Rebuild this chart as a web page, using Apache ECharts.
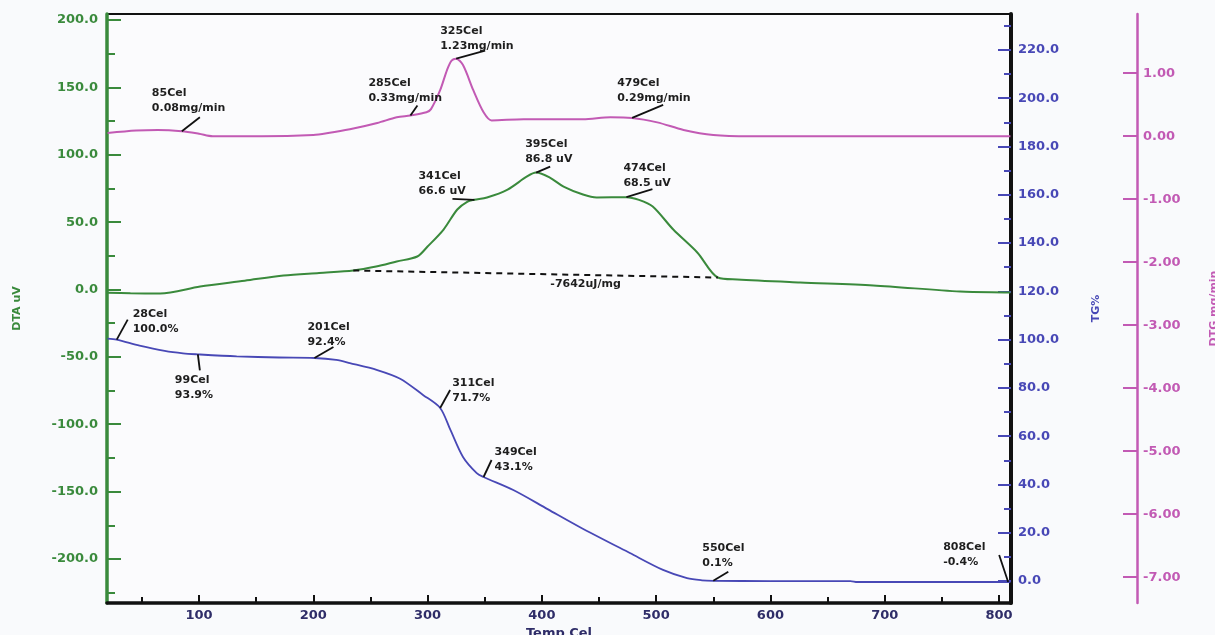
<!DOCTYPE html>
<html>
<head>
<meta charset="utf-8">
<script src="https://cdn.jsdelivr.net/npm/echarts@6/dist/echarts.min.js"></script>
<style>
  html, body { margin: 0; padding: 0; background: #f9fafc; }
  #chart { width: 1215px; height: 635px; }
</style>
</head>
<body>
<div id="chart"></div>
<script>
// ---- axis ticks ----
const tempMajorTicks = [100, 200, 300, 400, 500, 600, 700, 800];
const tempMinorTicks = [50, 150, 250, 350, 450, 550, 650, 750];
const dtaMajorTicks = [-200, -150, -100, -50, 0, 50, 100, 150, 200];
const dtaMinorTicks = [-225, -175, -125, -75, -25, 25, 75, 125, 175];
const tgMajorTicks = [0, 20, 40, 60, 80, 100, 120, 140, 160, 180, 200, 220];
const tgMinorTicks = [10, 30, 50, 70, 90, 110, 130, 150, 170, 190, 210, 230];
const dtgTicks = [-7, -6, -5, -4, -3, -2, -1, 0, 1];

// ---- TG curve (% mass) ----
const tgTemps  = [20, 28, 48, 70, 86, 99, 133, 170, 201, 220, 232, 256, 276, 296, 311, 320, 331, 343, 349, 375, 405, 433, 477, 506, 527, 540, 550, 600, 670, 676, 740, 808, 810];
const tgValues = [100.4, 100.0, 97.5, 95.3, 94.3, 93.9, 93.1, 92.6, 92.4, 91.6, 90.3, 87.4, 83.8, 77.1, 71.7, 62.6, 51.4, 44.7, 43.1, 37.7, 29.8, 22.4, 11.6, 4.6, 1.2, 0.3, 0.1, 0.0, 0.0, -0.4, -0.4, -0.4, -0.4];

// ---- DTA curve (uV) ----
const dtaTemps  = [20, 40, 66, 101, 140, 174, 205, 235, 255, 273, 291, 300, 314, 326, 335, 341, 352, 370, 387, 395, 407, 419, 436, 448, 474, 485, 497, 515, 536, 554, 571, 626, 690, 766, 807, 810];
const dtaValues = [-2.4, -2.8, -3.0, 2.2, 6.5, 10.4, 12.3, 14.1, 17.0, 20.8, 24.5, 31.9, 44.5, 59.4, 65.3, 66.6, 68.3, 74.2, 83.9, 86.8, 83.1, 76.4, 70.5, 68.3, 68.5, 66.5, 61.6, 44.5, 27.5, 8.9, 7.4, 5.2, 3.0, -1.5, -2.2, -2.3];

// ---- DTG curve (mg/min) ----
const dtgTemps  = [20, 45, 64, 85, 100, 112, 155, 200, 213, 232, 256, 273, 285, 299, 303, 311, 317, 321, 325, 331, 340, 349, 356, 384, 436, 460, 479, 501, 524, 550, 582, 700, 810];
const dtgValues = [0.05, 0.09, 0.10, 0.08, 0.04, 0.00, 0.00, 0.02, 0.05, 0.11, 0.21, 0.30, 0.33, 0.38, 0.43, 0.73, 1.05, 1.20, 1.23, 1.13, 0.73, 0.38, 0.25, 0.27, 0.27, 0.30, 0.29, 0.22, 0.10, 0.02, 0.00, 0.00, 0.00];

// ---- DTA peak-area baseline ----
const baselineTemps  = [235, 554];
const baselineValues = [14.1, 8.9];
const enthalpyText = '-7642uJ/mg';

// ---- annotated points ----
const tgMarkTemps   = [28, 99, 201, 311, 349, 550, 808];
const tgMarkValues  = [100.0, 93.9, 92.4, 71.7, 43.1, 0.1, -0.4];
const dtaMarkTemps  = [341, 395, 474];
const dtaMarkValues = [66.6, 86.8, 68.5];
const dtgMarkTemps  = [85, 285, 325, 479];
const dtgMarkValues = [0.08, 0.33, 1.23, 0.29];

// callout placement in pixels: leader end and text top-left, relative to the point
const tgCallouts = [
  { lead: [11, -20], text: [16, -33] },
  { lead: [2, 16],   text: [-23, 18] },
  { lead: [19, -11], text: [-7, -38.5] },
  { lead: [10, -18], text: [12, -32.5] },
  { lead: [8, -17],  text: [11, -32.5] },
  { lead: [15, -9],  text: [-11, -40] },
  { lead: [-9, -27], text: [-65, -42.5] }
];
const dtaCallouts = [
  { lead: [-22, -1], text: [-56, -31] },
  { lead: [14, -6],  text: [-11, -35.5] },
  { lead: [26, -8],  text: [-3, -37] }
];
const dtgCallouts = [
  { lead: [18, -14], text: [-30, -45.5] },
  { lead: [7, -10],  text: [-42, -40] },
  { lead: [29, -8],  text: [-16, -35] },
  { lead: [31, -13], text: [-15, -42] }
];

const GREEN = '#3a8a3c';
const BLUE = '#4848b6';
const PINK = '#c25ab4';
const NAVY = '#2f2d68';
const LABEL_FONT = '"DejaVu Sans", sans-serif';
const NOTE_FONT = 'bold 11px "DejaVu Sans", sans-serif';

const zip = (xs, ys) => xs.map((x, i) => [x, ys[i]]);

function calloutSeries(yAxisIndex, temps, values, layout, fmt) {
  return {
    type: 'custom',
    xAxisIndex: 0,
    yAxisIndex: yAxisIndex,
    z: 6,
    clip: false,
    silent: true,
    data: zip(temps, values),
    renderItem(params, api) {
      const i = params.dataIndex;
      const p = api.coord([api.value(0), api.value(1)]);
      const L = layout[i];
      return {
        type: 'group',
        children: [
          {
            type: 'line',
            shape: { x1: p[0], y1: p[1], x2: p[0] + L.lead[0], y2: p[1] + L.lead[1] },
            style: { stroke: '#111', lineWidth: 1.8 }
          },
          {
            type: 'text',
            x: p[0] + L.text[0],
            y: p[1] + L.text[1],
            style: {
              text: fmt(temps[i], values[i]),
              fill: '#1e1e1e',
              font: NOTE_FONT,
              lineHeight: 15,
              align: 'left',
              verticalAlign: 'top'
            }
          }
        ]
      };
    }
  };
}

function minorAxis(base, ticks, len, color) {
  return Object.assign({}, base, {
    name: '',
    axisLine: { show: false, onZero: false },
    axisTick: { show: true, inside: true, length: len, customValues: ticks, lineStyle: { color: color, width: 2 } },
    axisLabel: { show: false },
    splitLine: { show: false }
  });
}

const dtaAxis = {
  type: 'value', position: 'left', min: -232.7, max: 204.5,
  name: 'DTA uV', nameLocation: 'middle', nameGap: 84, nameRotate: 90,
  nameTextStyle: { color: GREEN, fontWeight: 'bold', fontSize: 11, fontFamily: LABEL_FONT },
  axisLine: { show: true, onZero: false, lineStyle: { color: GREEN, width: 3.5 } },
  axisTick: { show: true, inside: true, length: 14, customValues: dtaMajorTicks, lineStyle: { color: GREEN, width: 2 } },
  axisLabel: { customValues: dtaMajorTicks, formatter: v => v.toFixed(1), color: GREEN, fontWeight: 'bold', fontSize: 13, fontFamily: LABEL_FONT, margin: 9 },
  splitLine: { show: false }
};
const tgAxis = {
  type: 'value', position: 'right', offset: 0, min: -9.1, max: 234.9,
  name: 'TG%', nameLocation: 'middle', nameGap: 80, nameRotate: 90,
  nameTextStyle: { color: BLUE, fontWeight: 'bold', fontSize: 11, fontFamily: LABEL_FONT },
  axisLine: { show: true, onZero: false, lineStyle: { color: '#111', width: 4 } },
  axisTick: { show: true, inside: true, length: 13, customValues: tgMajorTicks, lineStyle: { color: BLUE, width: 2 } },
  axisLabel: { customValues: tgMajorTicks, formatter: v => v.toFixed(1), color: BLUE, fontWeight: 'bold', fontSize: 13, fontFamily: LABEL_FONT, margin: 7 },
  splitLine: { show: false }
};
const dtgAxis = {
  type: 'value', position: 'right', offset: 126, min: -7.41, max: 1.94,
  name: 'DTG mg/min', nameLocation: 'middle', nameGap: 72, nameRotate: 90,
  nameTextStyle: { color: PINK, fontWeight: 'bold', fontSize: 11, fontFamily: LABEL_FONT },
  axisLine: { show: true, onZero: false, lineStyle: { color: PINK, width: 2.5 } },
  axisTick: { show: true, inside: true, length: 14, customValues: dtgTicks, lineStyle: { color: PINK, width: 2 } },
  axisLabel: { customValues: dtgTicks, formatter: v => v.toFixed(2), color: PINK, fontWeight: 'bold', fontSize: 13, fontFamily: LABEL_FONT, margin: 6 },
  splitLine: { show: false }
};
const tempAxis = {
  type: 'value', position: 'bottom', min: 19.5, max: 810.5,
  name: 'Temp Cel', nameLocation: 'middle', nameGap: 21,
  nameTextStyle: { color: NAVY, fontWeight: 'bold', fontSize: 13, fontFamily: LABEL_FONT },
  axisLine: { show: true, onZero: false, lineStyle: { color: '#111', width: 3.5 } },
  axisTick: { show: true, inside: true, length: 8, customValues: tempMajorTicks, lineStyle: { color: '#111', width: 2 } },
  axisLabel: { customValues: tempMajorTicks, color: NAVY, fontWeight: 'bold', fontSize: 13, fontFamily: LABEL_FONT, margin: 6 },
  splitLine: { show: false }
};

const chart = echarts.init(document.getElementById('chart'), null, { renderer: 'canvas' });
chart.setOption({
  animation: false,
  backgroundColor: '#f9fafc',
  grid: {
    left: 107, right: 204, top: 14, bottom: 32,
    containLabel: false, outerBoundsMode: 'none',
    show: true, borderColor: '#111', borderWidth: 2, backgroundColor: '#fbfbfd'
  },
  xAxis: [tempAxis, minorAxis(tempAxis, tempMinorTicks, 6, '#111')],
  yAxis: [
    dtaAxis,
    minorAxis(dtaAxis, dtaMinorTicks, 8, GREEN),
    tgAxis,
    minorAxis(tgAxis, tgMinorTicks, 7, BLUE),
    dtgAxis
  ],
  series: [
    { type: 'line', name: 'DTA', xAxisIndex: 0, yAxisIndex: 0, data: zip(dtaTemps, dtaValues), showSymbol: false, smooth: 0.3, lineStyle: { color: GREEN, width: 2 }, z: 3 },
    { type: 'line', name: 'TG', xAxisIndex: 0, yAxisIndex: 2, data: zip(tgTemps, tgValues), showSymbol: false, smooth: 0.3, lineStyle: { color: BLUE, width: 1.8 }, z: 3 },
    { type: 'line', name: 'DTG', xAxisIndex: 0, yAxisIndex: 4, data: zip(dtgTemps, dtgValues), showSymbol: false, smooth: 0.3, lineStyle: { color: PINK, width: 2 }, z: 3 },
    { type: 'line', name: 'baseline', xAxisIndex: 0, yAxisIndex: 0, data: zip(baselineTemps, baselineValues), showSymbol: false, lineStyle: { color: '#111', width: 2, type: [6, 5] }, z: 4 },
    {
      type: 'custom', xAxisIndex: 0, yAxisIndex: 0, z: 6, silent: true,
      data: [[(baselineTemps[0] + baselineTemps[1]) / 2, (baselineValues[0] + baselineValues[1]) / 2]],
      renderItem(params, api) {
        const p = api.coord([api.value(0), api.value(1)]);
        return {
          type: 'text', x: p[0] + 50, y: p[1] + 5,
          style: { text: enthalpyText, fill: '#1e1e1e', font: NOTE_FONT, align: 'center', verticalAlign: 'top' }
        };
      }
    },
    calloutSeries(2, tgMarkTemps, tgMarkValues, tgCallouts, (t, v) => t + 'Cel\n' + v.toFixed(1) + '%'),
    calloutSeries(0, dtaMarkTemps, dtaMarkValues, dtaCallouts, (t, v) => t + 'Cel\n' + v.toFixed(1) + ' uV'),
    calloutSeries(4, dtgMarkTemps, dtgMarkValues, dtgCallouts, (t, v) => t + 'Cel\n' + v.toFixed(2) + 'mg/min')
  ]
});
</script>
</body>
</html>
